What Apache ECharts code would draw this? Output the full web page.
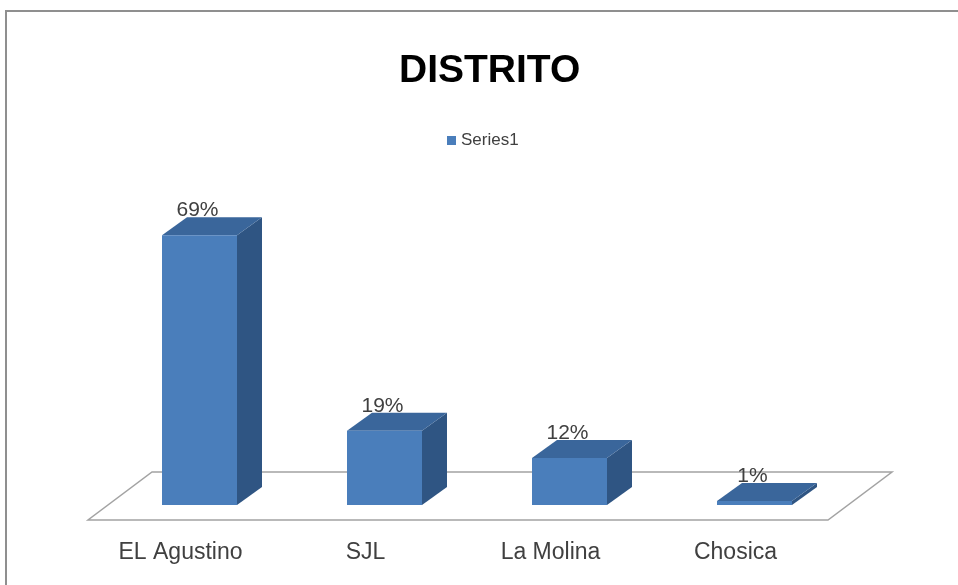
<!DOCTYPE html>
<html>
<head>
    <meta charset="utf-8">
    <title>DISTRITO</title>
    <script src="https://cdn.jsdelivr.net/npm/echarts@6/dist/echarts.min.js"></script>
    <style>
        html, body { margin: 0; padding: 0; background: #fff; }
        #main { width: 958px; height: 585px; }
    </style>
</head>
<body>
<div id="main"></div>
<script>
    // data
    var categories = ['EL Agustino', 'SJL', 'La Molina', 'Chosica'];
    var values = [69, 19, 12, 1];
    var seriesName = 'Series1';

    var FONT = '"Liberation Sans", Arial, sans-serif';
    // 3d look: floor depth and bar offsets (px)
    var FLOOR_DX = 64, FLOOR_DY = -48;
    var FRONT_DX = 19, FRONT_DY = -15;
    var BAR_W = 75;
    var DEPTH_DX = 25, DEPTH_DY = -18;

    var myChart = echarts.init(document.getElementById('main'));

    function renderFloor(params, api) {
        var cs = params.coordSys;
        var bx = cs.x, by = cs.y + cs.height;
        return {
            type: 'polygon',
            shape: {
                points: [
                    [bx, by], [bx + cs.width, by],
                    [bx + cs.width + FLOOR_DX, by + FLOOR_DY], [bx + FLOOR_DX, by + FLOOR_DY]
                ]
            },
            style: { fill: '#ffffff', stroke: '#a3a3a3', lineWidth: 1.5 }
        };
    }

    function renderBar(params, api) {
        var base = api.coord([api.value(0), 0]);
        var top = api.coord([api.value(0), api.value(1)]);
        var x0 = base[0] + FRONT_DX - BAR_W / 2;
        var x1 = x0 + BAR_W;
        var yb = base[1] + FRONT_DY;
        var yt = top[1] + FRONT_DY;
        return {
            type: 'group',
            children: [
                {
                    type: 'polygon',
                    shape: { points: [[x1, yb], [x1 + DEPTH_DX, yb + DEPTH_DY], [x1 + DEPTH_DX, yt + DEPTH_DY], [x1, yt]] },
                    style: { fill: '#2f5583' }
                },
                {
                    type: 'polygon',
                    shape: { points: [[x0, yt], [x1, yt], [x1 + DEPTH_DX, yt + DEPTH_DY], [x0 + DEPTH_DX, yt + DEPTH_DY]] },
                    style: { fill: '#3a669b' }
                },
                {
                    type: 'rect',
                    shape: { x: x0, y: yt, width: BAR_W, height: yb - yt },
                    style: { fill: '#4a7ebb' }
                },
                {
                    type: 'text',
                    x: (x0 + x1) / 2 - 2,
                    y: yt - 25,
                    style: {
                        text: api.value(1) + '%',
                        textAlign: 'center',
                        textVerticalAlign: 'middle',
                        fontSize: 21,
                        fontFamily: FONT,
                        fill: '#404040'
                    }
                }
            ]
        };
    }

    var option = {
        backgroundColor: '#ffffff',
        animation: false,
        title: {
            text: 'DISTRITO',
            left: 394,
            top: 47,
            textStyle: { fontSize: 39, fontWeight: 'bold', fontFamily: FONT, color: '#000000' }
        },
        legend: {
            data: [seriesName],
            left: 442,
            top: 127,
            icon: 'rect',
            itemWidth: 9,
            itemHeight: 9,
            itemGap: 5,
            textStyle: { fontSize: 17, fontFamily: FONT, color: '#404040' }
        },
        grid: { left: 88, right: 130, top: 129, bottom: 65 },
        xAxis: {
            type: 'category',
            data: categories,
            axisLine: { show: false },
            axisTick: { show: false },
            axisLabel: { margin: 21, fontSize: 23, fontFamily: FONT, color: '#404040' }
        },
        yAxis: {
            type: 'value',
            min: 0,
            max: 100,
            show: false
        },
        graphic: [{
            type: 'rect',
            shape: { x: 6, y: 11, width: 1000, height: 1000 },
            style: { fill: 'none', stroke: '#8f8f8f', lineWidth: 2 },
            z: -1
        }],
        series: [
            {
                type: 'custom',
                name: 'floor',
                data: [0],
                renderItem: renderFloor,
                silent: true,
                z: 1
            },
            {
                type: 'custom',
                name: seriesName,
                itemStyle: { color: '#4a7ebb' },
                data: values.map(function (v, i) { return [i, v]; }),
                encode: { x: 0, y: 1 },
                renderItem: renderBar,
                z: 2
            }
        ]
    };

    myChart.setOption(option);
</script>
</body>
</html>
